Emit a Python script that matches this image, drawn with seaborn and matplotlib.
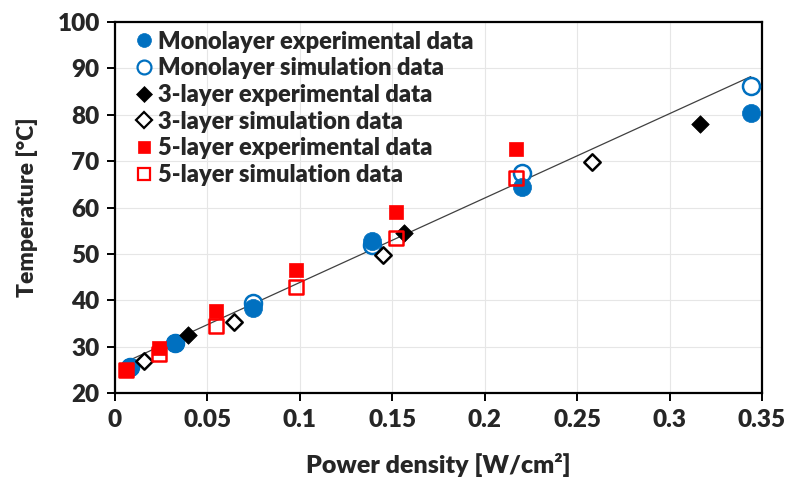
import numpy as np
import pandas as pd
import matplotlib
matplotlib.use("Agg")
import matplotlib.pyplot as plt
import seaborn as sns

# Power density [W/cm^2] and temperature [°C] for each data set
mono_exp_x = [0.0081, 0.0325, 0.0745, 0.1389, 0.2200, 0.3439]
mono_exp_y = [25.6, 30.9, 38.3, 52.8, 64.5, 80.3]
mono_sim_x = [0.0081, 0.0325, 0.0745, 0.1389, 0.2200, 0.3439]
mono_sim_y = [25.6, 30.9, 39.5, 51.9, 67.4, 86.2]

tri_exp_x = [0.0393, 0.1565, 0.3165]
tri_exp_y = [32.6, 54.6, 78.0]
tri_sim_x = [0.0159, 0.0644, 0.1452, 0.2582]
tri_sim_y = [27.0, 35.3, 49.8, 69.9]

penta_exp_x = [0.0060, 0.0240, 0.0546, 0.0980, 0.1520, 0.2167]
penta_exp_y = [25.0, 29.7, 37.7, 46.5, 59.1, 72.7]
penta_sim_x = [0.0060, 0.0240, 0.0546, 0.0979, 0.1520, 0.2167]
penta_sim_y = [25.0, 28.5, 34.5, 42.8, 53.4, 66.4]

# Linear trend line: T = slope * P + intercept
trend_slope = 181.7
trend_intercept = 25.7

x_ticks = [0, 0.05, 0.1, 0.15, 0.2, 0.25, 0.3, 0.35]
x_tick_labels = ["0", "0.05", "0.1", "0.15", "0.2", "0.25", "0.3", "0.35"]
y_ticks = [20, 30, 40, 50, 60, 70, 80, 90, 100]

BLUE = "#0070C0"
RED = "#FF0000"

sns.set_theme(style="white")
plt.rcParams["font.family"] = ["Lato", "DejaVu Sans"]
plt.rcParams["font.weight"] = "bold"

fig = plt.figure(figsize=(7.9, 4.79), dpi=100)
ax = fig.add_axes([0.1456, 0.1789, 0.819, 0.7758])

all_x = np.concatenate([mono_exp_x, mono_sim_x, tri_exp_x, tri_sim_x, penta_exp_x, penta_sim_x])
trend = pd.DataFrame({"x": [all_x.min(), all_x.max()]})
trend["y"] = trend_slope * trend["x"] + trend_intercept
sns.lineplot(data=trend, x="x", y="y", ax=ax, color="#404040", lw=0.9, zorder=2)

# (x, y, marker, face, edge, size, label, draw order)
series = [
    (mono_exp_x, mono_exp_y, "o", BLUE, BLUE, 170, "Monolayer experimental data", 4),
    (mono_sim_x, mono_sim_y, "o", "white", BLUE, 150, "Monolayer simulation data", 3),
    (tri_exp_x, tri_exp_y, "D", "black", "black", 80, "3-layer experimental data", 5),
    (tri_sim_x, tri_sim_y, "D", "white", "black", 70, "3-layer simulation data", 6),
    (penta_exp_x, penta_exp_y, "s", RED, RED, 110, "5-layer experimental data", 7),
    (penta_sim_x, penta_sim_y, "s", "none", RED, 100, "5-layer simulation data", 8),
]
handles = []
for xs, ys, mk, fc, ec, size, label, z in series:
    hollow = fc in ("white", "none")
    df = pd.DataFrame({"x": xs, "y": ys})
    sns.scatterplot(data=df, x="x", y="y", ax=ax, marker=mk, s=size,
                    facecolor=fc, edgecolor=ec, linewidth=1.8 if hollow else 0.5,
                    zorder=z)
    handles.append(plt.Line2D([], [], ls="none", marker=mk,
                              markersize=10 if mk == "o" else 8,
                              markerfacecolor="white" if hollow else fc,
                              markeredgecolor=ec, markeredgewidth=1.6 if hollow else 0.5,
                              label=label))

ax.set_xlim(0, 0.35)
ax.set_ylim(20, 100)
ax.set_xticks(x_ticks)
ax.set_xticklabels(x_tick_labels)
ax.set_yticks(y_ticks)
ax.grid(True, color="#E6E6E6", lw=0.8)
ax.set_axisbelow(True)
for sp in ax.spines.values():
    sp.set_visible(True)
    sp.set_color("black")
    sp.set_linewidth(1.6)
ax.tick_params(axis="both", direction="out", length=6, width=1.4, color="black",
               labelsize=17.5, pad=5, bottom=True, left=True)
for lab in ax.get_xticklabels() + ax.get_yticklabels():
    lab.set_fontweight("heavy")
ax.set_xlabel("Power density [W/cm²]", fontsize=18, fontweight="heavy", labelpad=16)
ax.set_ylabel("Temperature [°C]", fontsize=16.5, fontweight="heavy", labelpad=14)

leg = ax.legend(handles=handles, loc="upper left", bbox_to_anchor=(0.0155, 0.992),
                frameon=False, handletextpad=0.05, labelspacing=0.2, borderaxespad=0.0,
                borderpad=0.25, handlelength=1.1, prop={"weight": "heavy", "size": 17})

fig.savefig("out.png", dpi=100)
